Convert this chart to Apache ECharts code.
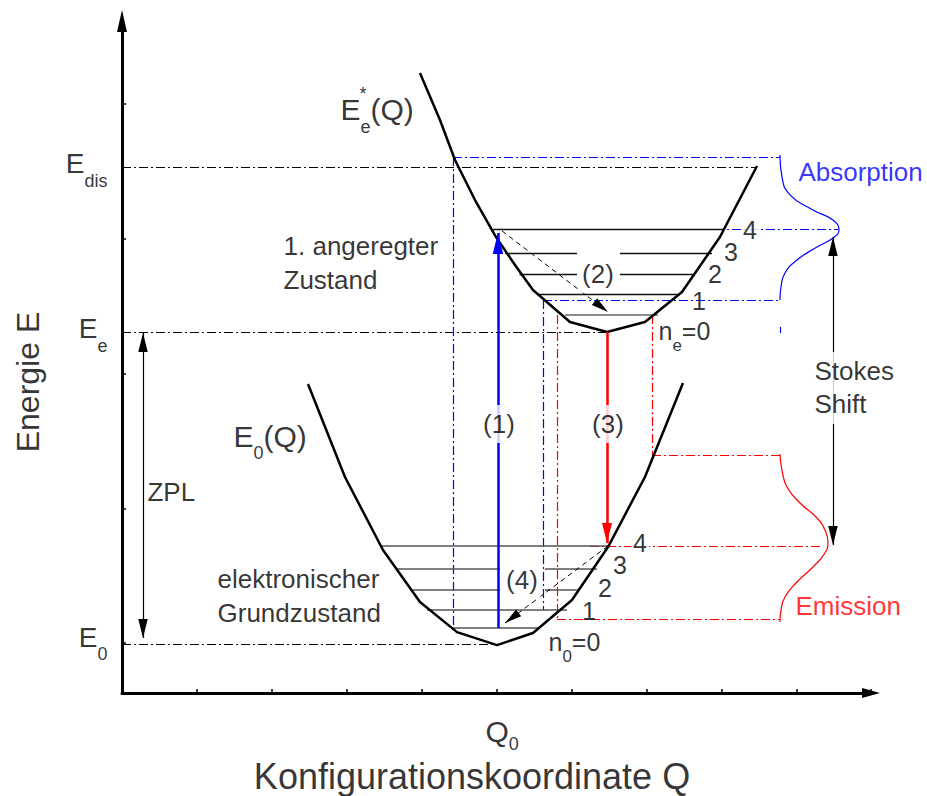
<!DOCTYPE html>
<html><head><meta charset="utf-8">
<script src="https://cdn.jsdelivr.net/npm/echarts@6/dist/echarts.min.js"></script>
<style>html,body{margin:0;padding:0;background:#fff}#c{width:927px;height:796px}</style>
</head><body><div id="c"></div>
<script>
// ---------- DATA (Q and E in axis-tick units; E = 0 at E0) ----------
const excitedCurve = [[3.973,4.222],[4.24,3.874],[4.44,3.578],[4.707,3.281],[4.987,3.007],[5.24,2.8],[5.48,2.615],[5.973,2.378],[6.467,2.304],[6.973,2.378],[7.467,2.6],[7.973,3.007],[8.467,3.533]];
const groundCurve = [[2.48,1.919],[2.973,1.23],[3.48,0.689],[3.973,0.304],[4.467,0.081],[5.0,-0.015],[5.48,0.074],[6.0,0.319],[6.48,0.711],[6.973,1.23],[7.48,1.926]];

const excitedLevelE = [2.43, 2.585, 2.733, 2.889, 3.067];
const excitedLevelSpans = [[[5.907,7.147]],[[5.547,7.44]],[[5.3,6.067],[6.64,7.613]],[[5.107,6.067],[6.64,7.867]],[[4.947,8.013]]];
const groundLevelE = [0.111, 0.244, 0.393, 0.548, 0.719];
const groundLevelSpans = [[[4.413,5.547]],[[4.067,5.933]],[[3.853,5.04],[5.64,6.08]],[[3.667,5.04],[5.64,6.333]],[[3.453,6.48]]];

const energyLevelE = [3.526, 2.304, -0.007];      // E_dis, E_e, E_0
const energyLevelQEnd = [8.467, 6.467, 5.0];

const absorptionGuides = [[[4.413,3.6],[4.413,0.111]],[[4.413,3.6],[8.773,3.6]],[[5.613,2.541],[5.613,0.244]],[[5.613,2.541],[8.773,2.541]],[[7.68,3.067],[9.547,3.067]]];
const absorptionStub = [[[8.773,2.341],[8.773,2.296]]];
const emissionGuides = [[[5.8,2.43],[5.8,0.178]],[[5.8,0.178],[8.773,0.178]],[[7.067,2.43],[7.067,1.393]],[[7.067,1.393],[8.773,1.393]],[[6.24,0.719],[9.347,0.719]]];

const absorptionBand = [[8.773,3.615],[8.8,3.452],[8.907,3.319],[9.213,3.207],[9.48,3.133],[9.56,3.059],[9.48,3.0],[9.267,2.933],[9.0,2.837],[8.84,2.741],[8.787,2.637],[8.773,2.541]];
const emissionBand = [[8.773,1.4],[8.8,1.281],[8.867,1.156],[9.04,1.037],[9.267,0.926],[9.373,0.837],[9.413,0.748],[9.373,0.667],[9.213,0.563],[9.0,0.452],[8.84,0.341],[8.787,0.244],[8.773,0.156]];

const absorptionArrow = [[5.013,0.111],[5.013,3.037]];
const emissionArrow = [[6.467,2.304],[6.467,0.741]];
const relaxExcited = [[5.067,3.052],[6.48,2.452]];
const relaxGround = [[6.48,0.719],[5.107,0.148]];
const zplArrow = [[0.28,0.037],[0.28,2.296]];
const stokesArrow = [[9.48,0.726],[9.48,3.007]];

const energyTickPos = [[-0.187,3.548],[-0.187,2.326],[-0.187,0.044]];
const energyTickNames = [['E','dis'],['E','e'],['E','0']];
const stateLabelPos = [[2.907,3.948],[1.48,1.533]];
const stateLabelNames = [['E','e','(Q)'],['E','0','(Q)']];
const starPos = [[3.213,4.067]];
const quantumLabelPos = [[7.147,2.311],[5.68,0.007]];
const quantumLabelNames = [['n','e','=0'],['n','0','=0']];
const q0Pos = [[4.84,-0.652]];
const q0Name = [['Q','0']];

const bodyTextPos = [[2.147,2.811],[1.267,0.348],[0.333,1.119]];
const bodyTexts = ['1. angeregter\nZustand','elektronischer\nGrundzustand','ZPL'];
const transitionPos = [[5.027,1.622],[6.347,2.733],[6.48,1.622],[5.333,0.467]];
const transitionTexts = ['(1)','(2)','(3)','(4)'];
const vibNumbers = ['1','2','3','4'];
const excitedVibPos = [[7.693,2.533],[7.907,2.733],[8.12,2.896],[8.373,3.059]];
const groundVibPos = [[6.227,0.237],[6.44,0.407],[6.64,0.578],[6.907,0.741]];
const absorptionTextPos = [[9.013,3.489]];
const emissionTextPos = [[8.973,0.274]];
const stokesPos = [[9.2,1.889]];
const xTitlePos = [[4.667,-0.985]];
const yTitlePos = [[-1.253,1.933]];

const Q_MAX = 9.987, E_MIN = -0.370, E_MAX = 4.607;

// ---------- BUILD ----------
const FONT = "'Liberation Sans', Arial, sans-serif";
const ARROW = 'path://M20,20L25,40L15,40Z M0,0L0.01,0L0,0.01Z M40,40L39.99,40L40,39.99Z';
const DASHDOT = [9,3,2,3];

function segs(list){ return list.map(c => ({coords: c})); }
function levelSegs(Es, spans, from, to){
  const out = [];
  for (let i = from; i <= to; i++) spans[i].forEach(s => out.push([[s[0],Es[i]],[s[1],Es[i]]]));
  return out;
}
function linesSeries(list, style, extra){
  return Object.assign({type:'lines', coordinateSystem:'cartesian2d', xAxisIndex:0, yAxisIndex:0, polyline:false,
    silent:true, animation:false, z:3, data: segs(list),
    lineStyle: Object.assign({opacity:1, curveness:0}, style)}, extra || {});
}
function textSeries(pos, texts, label, z){
  return {type:'scatter', xAxisIndex:0, yAxisIndex:0, clip:false, silent:true, animation:false, z: z || 10,
    symbolSize:1, itemStyle:{color:'rgba(0,0,0,0)'},
    data: pos.map((p,i) => ({value:p, name: texts[i]})),
    label: Object.assign({show:true, formatter: p => p.name, fontFamily:FONT, color:'#000', distance:0}, label)};
}
function subSeries(pos, names, mainSize, subSize, pad, position){
  return {type:'scatter', xAxisIndex:0, yAxisIndex:0, clip:false, silent:true, animation:false, z:10,
    symbolSize:1, itemStyle:{color:'rgba(0,0,0,0)'},
    data: pos.map((p,i) => ({value:p, main:names[i][0], sub:names[i][1], tail:names[i][2] || ''})),
    label:{show:true, position: position, distance:0, fontFamily:FONT, color:'#000',
      formatter: p => '{m|' + p.data.main + '}{s|' + p.data.sub + '}' + (p.data.tail ? '{m|' + p.data.tail + '}' : ''),
      rich:{ m:{fontSize:mainSize, fontFamily:FONT, color:'#000'},
             s:{fontSize:subSize, fontFamily:FONT, color:'#000', padding:[pad,0,0,0]} } } };
}

const chart = echarts.init(document.getElementById('c'), null, {renderer:'svg', width:927, height:796});
const option = {
  backgroundColor:'#fff',
  animation:false,
  grid:[{left:122, top:21, width:749, height:672},{left:122, top:104, width:749, height:539}],
  xAxis:[
    {gridIndex:0, type:'value', min:0, max:Q_MAX, interval:1,
     axisLine:{show:true, onZero:false, symbol:['none','triangle'], symbolSize:[10,18], lineStyle:{color:'#000', width:3}},
     axisTick:{show:true, inside:true, length:4, lineStyle:{color:'#000', width:1.5}},
     axisLabel:{show:false}, splitLine:{show:false}},
    {gridIndex:1, type:'value', min:0, max:10, show:false}
  ],
  yAxis:[
    {gridIndex:0, type:'value', min:E_MIN, max:E_MAX,
     axisLine:{show:true, onZero:false, symbol:['none','triangle'], symbolSize:[10,22], lineStyle:{color:'#000', width:3}},
     axisTick:{show:false}, axisLabel:{show:false}, splitLine:{show:false}},
    {gridIndex:1, type:'value', min:0, max:4, interval:1,
     axisLine:{show:false, onZero:false}, axisTick:{show:true, inside:true, length:4, lineStyle:{color:'#000', width:1.5}},
     axisLabel:{show:false}, splitLine:{show:false}}
  ],
  series:[
    linesSeries(energyLevelE.map((e,i) => [[0,e],[energyLevelQEnd[i],e]]), {color:'#000', width:1.2, type:DASHDOT}, {z:1}),
    linesSeries(absorptionGuides, {color:'#0000ff', width:1.2, type:DASHDOT}, {z:1}),
    linesSeries(absorptionStub, {color:'#0000ff', width:1.2}, {z:1}),
    linesSeries(emissionGuides, {color:'#ff0000', width:1.2, type:DASHDOT}, {z:1}),
    {type:'line', data:absorptionBand, smooth:0.5, symbol:'none', silent:true, z:2, lineStyle:{color:'#0000ff', width:1.2}},
    {type:'line', data:emissionBand, smooth:0.5, symbol:'none', silent:true, z:2, lineStyle:{color:'#ff0000', width:1.2}},
    linesSeries(levelSegs(excitedLevelE, excitedLevelSpans, 1, 4), {color:'#111', width:1.4}, {z:2}),
    linesSeries(levelSegs(excitedLevelE, excitedLevelSpans, 0, 0), {color:'#666', width:1.6}, {z:2}),
    linesSeries(levelSegs(groundLevelE, groundLevelSpans, 0, 4), {color:'#555', width:1.7}, {z:2}),
    {type:'line', data:excitedCurve, symbol:'none', silent:true, z:5, lineStyle:{color:'#000', width:2.5}},
    {type:'line', data:groundCurve, symbol:'none', silent:true, z:5, lineStyle:{color:'#000', width:2.5}},
    linesSeries([absorptionArrow], {color:'#0000ff', width:2.5}, {z:6, symbol:['none',ARROW], symbolSize:42}),
    linesSeries([emissionArrow], {color:'#ff0000', width:2.5}, {z:6, symbol:['none',ARROW], symbolSize:40}),
    linesSeries([relaxExcited, relaxGround], {color:'#000', width:1, type:[5,4]}, {z:6, symbol:['none',ARROW], symbolSize:34}),
    linesSeries([zplArrow, stokesArrow], {color:'#000', width:1.2}, {z:6, symbol:[ARROW,ARROW], symbolSize:38}),

    subSeries(energyTickPos, energyTickNames, 28, 18, 34, 'left'),
    subSeries(stateLabelPos, stateLabelNames, 30, 18, 34, 'right'),
    subSeries(quantumLabelPos, quantumLabelNames, 25, 17, 28, 'right'),
    subSeries(q0Pos, q0Name, 30, 18, 26, 'right'),
    textSeries(starPos, ['*'], {position:'inside', fontSize:18}),
    textSeries(bodyTextPos, bodyTexts, {position:'right', fontSize:26, lineHeight:34}),
    textSeries(transitionPos, transitionTexts, {position:'inside', fontSize:26, backgroundColor:'#fff', padding:[6,3]}),
    textSeries(excitedVibPos.slice(0,3).concat(groundVibPos.slice(0,3)), vibNumbers.slice(0,3).concat(vibNumbers.slice(0,3)), {position:'inside', fontSize:25}),
    textSeries([excitedVibPos[3], groundVibPos[3]], [vibNumbers[3], vibNumbers[3]], {position:'inside', fontSize:25, backgroundColor:'#fff', padding:[0,2]}),
    textSeries(absorptionTextPos, ['Absorption'], {position:'right', fontSize:26, color:'#0000ff'}),
    textSeries(emissionTextPos, ['Emission'], {position:'right', fontSize:26, color:'#ff0000'}),
    textSeries(stokesPos, ['Stokes\nShift'], {position:'right', fontSize:26, lineHeight:33, backgroundColor:'#fff', padding:[3,2]}),
    textSeries(xTitlePos, ['Konfigurationskoordinate Q'], {position:'inside', fontSize:36}),
    textSeries(yTitlePos, ['Energie E'], {position:'inside', fontSize:32, rotate:90})
  ]
};
chart.setOption(option);
</script></body></html>
